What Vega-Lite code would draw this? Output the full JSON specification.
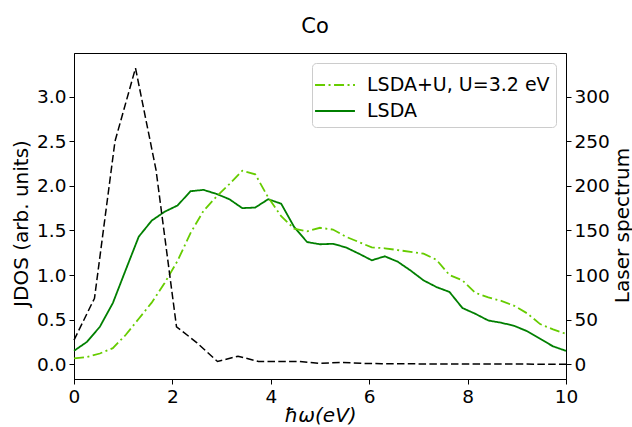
{
  "$schema": "https://vega.github.io/schema/vega-lite/v6.json",
  "width": 492,
  "height": 326,
  "autosize": {"type": "none"},
  "padding": {"left": 74, "top": 53, "right": 66, "bottom": 48},
  "background": "white",
  "title": {"text": "Co", "fontSize": 21, "font": "DejaVu Sans", "fontWeight": "normal", "anchor": "middle", "baseline": "alphabetic", "offset": -1, "dx": -5, "color": "black"},
  "config": {
    "view": {"stroke": "black", "strokeWidth": 1},
    "axis": {"grid": false, "labelFont": "DejaVu Sans", "titleFont": "DejaVu Sans", "labelFontSize": 18.5, "titleFontSize": 20, "labelColor": "black", "titleColor": "black", "titleFontWeight": "normal", "domainColor": "black", "tickColor": "black", "tickSize": 5, "labelPadding": 3, "domainWidth": 1, "tickWidth": 1, "labelFlush": false},
    "legend": {"orient": "top-right", "offset": 10, "padding": 6, "symbolOffset": 1, "strokeColor": "#cccccc", "fillColor": "rgba(255,255,255,0.8)", "cornerRadius": 4, "labelFont": "DejaVu Sans", "labelFontSize": 19, "labelColor": "black", "labelLimit": 400, "symbolType": "M-1.33,0H1.33", "symbolSize": 900, "symbolStrokeWidth": 1.8, "symbolFillColor": "transparent", "labelOffset": 16, "rowPadding": 0}
  },
  "layer": [
    {
      "data": {"values": [
        {"x": 0.0, "series": "LSDA", "v": 0.15},
        {"x": 0.263, "series": "LSDA", "v": 0.25},
        {"x": 0.526, "series": "LSDA", "v": 0.42},
        {"x": 0.789, "series": "LSDA", "v": 0.685},
        {"x": 1.053, "series": "LSDA", "v": 1.06},
        {"x": 1.316, "series": "LSDA", "v": 1.43},
        {"x": 1.579, "series": "LSDA", "v": 1.61},
        {"x": 1.842, "series": "LSDA", "v": 1.71},
        {"x": 2.105, "series": "LSDA", "v": 1.78},
        {"x": 2.368, "series": "LSDA", "v": 1.94},
        {"x": 2.632, "series": "LSDA", "v": 1.955},
        {"x": 2.895, "series": "LSDA", "v": 1.91},
        {"x": 3.158, "series": "LSDA", "v": 1.85},
        {"x": 3.421, "series": "LSDA", "v": 1.75},
        {"x": 3.684, "series": "LSDA", "v": 1.757},
        {"x": 3.947, "series": "LSDA", "v": 1.85},
        {"x": 4.211, "series": "LSDA", "v": 1.8},
        {"x": 4.474, "series": "LSDA", "v": 1.54},
        {"x": 4.737, "series": "LSDA", "v": 1.37},
        {"x": 5.0, "series": "LSDA", "v": 1.345},
        {"x": 5.263, "series": "LSDA", "v": 1.35},
        {"x": 5.526, "series": "LSDA", "v": 1.31},
        {"x": 5.789, "series": "LSDA", "v": 1.24},
        {"x": 6.053, "series": "LSDA", "v": 1.165},
        {"x": 6.316, "series": "LSDA", "v": 1.21},
        {"x": 6.579, "series": "LSDA", "v": 1.15},
        {"x": 6.842, "series": "LSDA", "v": 1.05},
        {"x": 7.105, "series": "LSDA", "v": 0.94},
        {"x": 7.368, "series": "LSDA", "v": 0.865},
        {"x": 7.632, "series": "LSDA", "v": 0.81},
        {"x": 7.895, "series": "LSDA", "v": 0.63},
        {"x": 8.158, "series": "LSDA", "v": 0.565},
        {"x": 8.421, "series": "LSDA", "v": 0.49},
        {"x": 8.684, "series": "LSDA", "v": 0.465},
        {"x": 8.947, "series": "LSDA", "v": 0.43},
        {"x": 9.211, "series": "LSDA", "v": 0.37},
        {"x": 9.474, "series": "LSDA", "v": 0.285},
        {"x": 9.737, "series": "LSDA", "v": 0.2},
        {"x": 10.0, "series": "LSDA", "v": 0.15},
        {"x": 0.0, "series": "LSDA+U, U=3.2 eV", "v": 0.065},
        {"x": 0.263, "series": "LSDA+U, U=3.2 eV", "v": 0.08},
        {"x": 0.526, "series": "LSDA+U, U=3.2 eV", "v": 0.12},
        {"x": 0.789, "series": "LSDA+U, U=3.2 eV", "v": 0.18},
        {"x": 1.053, "series": "LSDA+U, U=3.2 eV", "v": 0.33},
        {"x": 1.316, "series": "LSDA+U, U=3.2 eV", "v": 0.51},
        {"x": 1.579, "series": "LSDA+U, U=3.2 eV", "v": 0.69},
        {"x": 1.842, "series": "LSDA+U, U=3.2 eV", "v": 0.91},
        {"x": 2.105, "series": "LSDA+U, U=3.2 eV", "v": 1.16},
        {"x": 2.368, "series": "LSDA+U, U=3.2 eV", "v": 1.47},
        {"x": 2.632, "series": "LSDA+U, U=3.2 eV", "v": 1.72},
        {"x": 2.895, "series": "LSDA+U, U=3.2 eV", "v": 1.88},
        {"x": 3.158, "series": "LSDA+U, U=3.2 eV", "v": 2.02},
        {"x": 3.421, "series": "LSDA+U, U=3.2 eV", "v": 2.17},
        {"x": 3.684, "series": "LSDA+U, U=3.2 eV", "v": 2.13},
        {"x": 3.947, "series": "LSDA+U, U=3.2 eV", "v": 1.87},
        {"x": 4.211, "series": "LSDA+U, U=3.2 eV", "v": 1.66},
        {"x": 4.474, "series": "LSDA+U, U=3.2 eV", "v": 1.52},
        {"x": 4.737, "series": "LSDA+U, U=3.2 eV", "v": 1.49},
        {"x": 5.0, "series": "LSDA+U, U=3.2 eV", "v": 1.53},
        {"x": 5.263, "series": "LSDA+U, U=3.2 eV", "v": 1.51},
        {"x": 5.526, "series": "LSDA+U, U=3.2 eV", "v": 1.43},
        {"x": 5.789, "series": "LSDA+U, U=3.2 eV", "v": 1.37},
        {"x": 6.053, "series": "LSDA+U, U=3.2 eV", "v": 1.31},
        {"x": 6.316, "series": "LSDA+U, U=3.2 eV", "v": 1.3},
        {"x": 6.579, "series": "LSDA+U, U=3.2 eV", "v": 1.28},
        {"x": 6.842, "series": "LSDA+U, U=3.2 eV", "v": 1.26},
        {"x": 7.105, "series": "LSDA+U, U=3.2 eV", "v": 1.24},
        {"x": 7.368, "series": "LSDA+U, U=3.2 eV", "v": 1.17},
        {"x": 7.632, "series": "LSDA+U, U=3.2 eV", "v": 1.0},
        {"x": 7.895, "series": "LSDA+U, U=3.2 eV", "v": 0.94},
        {"x": 8.158, "series": "LSDA+U, U=3.2 eV", "v": 0.8},
        {"x": 8.421, "series": "LSDA+U, U=3.2 eV", "v": 0.75},
        {"x": 8.684, "series": "LSDA+U, U=3.2 eV", "v": 0.71},
        {"x": 8.947, "series": "LSDA+U, U=3.2 eV", "v": 0.655},
        {"x": 9.211, "series": "LSDA+U, U=3.2 eV", "v": 0.57},
        {"x": 9.474, "series": "LSDA+U, U=3.2 eV", "v": 0.45},
        {"x": 9.737, "series": "LSDA+U, U=3.2 eV", "v": 0.39},
        {"x": 10.0, "series": "LSDA+U, U=3.2 eV", "v": 0.34}
      ]},
      "mark": {"type": "line", "strokeWidth": 1.8},
      "encoding": {
        "x": {"field": "x", "type": "quantitative", "scale": {"domain": [0, 10], "nice": false, "zero": false},
              "axis": {"title": "ħω(eV)", "titleFontStyle": "italic", "values": [0, 2, 4, 6, 8, 10], "titleY": 42, "titleBaseline": "alphabetic"}},
        "y": {"field": "v", "type": "quantitative", "scale": {"domain": [-0.166, 3.49], "nice": false, "zero": false},
              "axis": {"orient": "left", "title": "JDOS (arb. units)", "values": [0, 0.5, 1, 1.5, 2, 2.5, 3], "format": ".1f", "titleX": -47, "titleY": 170, "titleAngle": 270, "titleAlign": "center", "titleBaseline": "alphabetic"}},
        "color": {"field": "series", "type": "nominal", "scale": {"domain": ["LSDA+U, U=3.2 eV", "LSDA"], "range": ["#66cc00", "#007f00"]}, "title": null},
        "strokeDash": {"field": "series", "type": "nominal", "scale": {"domain": ["LSDA+U, U=3.2 eV", "LSDA"], "range": [[10, 3.5, 2, 3.5], [1, 0]]}, "title": null}
      }
    },
    {
      "data": {"values": [
        {"x": 0.0, "laser": 27},
        {"x": 0.4167, "laser": 74},
        {"x": 0.8333, "laser": 250},
        {"x": 1.25, "laser": 332},
        {"x": 1.6667, "laser": 218},
        {"x": 2.0833, "laser": 42},
        {"x": 2.5, "laser": 24},
        {"x": 2.9167, "laser": 3},
        {"x": 3.3333, "laser": 9},
        {"x": 3.75, "laser": 3},
        {"x": 4.1667, "laser": 3},
        {"x": 4.5833, "laser": 3},
        {"x": 5.0, "laser": 1},
        {"x": 5.4167, "laser": 2},
        {"x": 5.8333, "laser": 1},
        {"x": 6.25, "laser": 0.5},
        {"x": 6.6667, "laser": 0.5},
        {"x": 7.0833, "laser": 0.3},
        {"x": 7.5, "laser": 0.3},
        {"x": 7.9167, "laser": 0.2},
        {"x": 8.3333, "laser": 0.2},
        {"x": 8.75, "laser": 0.1},
        {"x": 9.1667, "laser": 0.1},
        {"x": 9.5833, "laser": 0},
        {"x": 10.0, "laser": 0}
      ]},
      "mark": {"type": "line", "color": "black", "strokeWidth": 1.5, "strokeDash": [7.5, 3.3]},
      "encoding": {
        "x": {"field": "x", "type": "quantitative"},
        "y": {"field": "laser", "type": "quantitative", "scale": {"domain": [-16.6, 349], "nice": false, "zero": false},
              "axis": {"orient": "right", "title": "Laser spectrum", "values": [0, 50, 100, 150, 200, 250, 300], "titleX": 62, "titleY": 172, "titleAngle": 270, "titleAlign": "center", "titleBaseline": "alphabetic"}}
      }
    }
  ],
  "resolve": {"scale": {"y": "independent"}}
}
